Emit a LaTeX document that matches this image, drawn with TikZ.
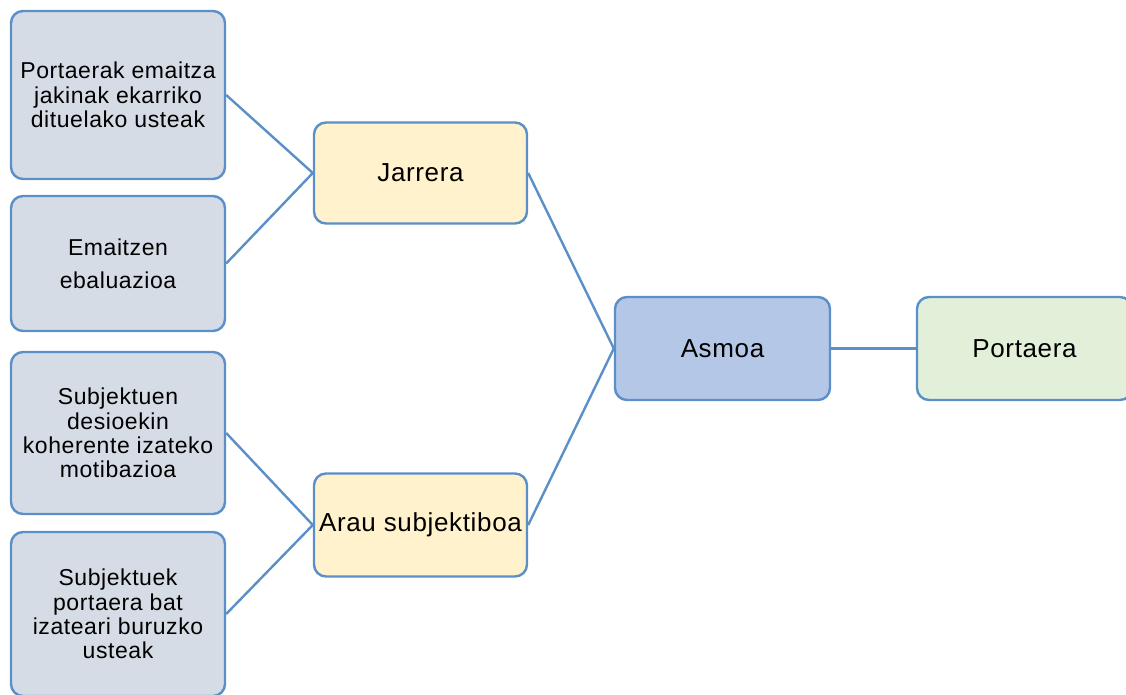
\documentclass[tikz,border=0pt]{standalone}
\usepackage{fontspec}
\setmainfont{Liberation Sans}[LetterSpace=2.5]
\definecolor{edgeblue}{HTML}{5B8FC8}
\definecolor{grayfill}{HTML}{D6DCE5}
\definecolor{yellowfill}{HTML}{FFF2CC}
\definecolor{bluefill}{HTML}{B4C7E7}
\definecolor{greenfill}{HTML}{E2F0D9}
\begin{document}
\begin{tikzpicture}[x=1pt,y=-1pt,
  box/.style={draw=edgeblue, line width=2.4pt, rounded corners=12pt, align=center, inner sep=0pt, text=black},
  leftbox/.style={box, fill=grayfill, minimum width=214pt, font=\fontsize{23}{24.4}\selectfont},
  midbox/.style={box, fill=yellowfill, minimum width=213pt, minimum height=101pt, font=\fontsize{26}{28}\selectfont},
  link/.style={draw=edgeblue, line width=2.4pt}]
\useasboundingbox (0,0) rectangle (1126,695);
\clip (0,0) rectangle (1126,695);
\node[leftbox, minimum height=168pt] (b1) at (118,95) {Portaerak emaitza\\jakinak ekarriko\\dituelako usteak};
\node[leftbox, minimum height=135pt] (b2) at (118,263.5) {Emaitzen\\[8.6pt]ebaluazioa};
\node[leftbox, minimum height=162pt] (b3) at (118,433) {Subjektuen\\desioekin\\koherente izateko\\motibazioa};
\node[leftbox, minimum height=164pt] (b4) at (118,614) {Subjektuek\\portaera bat\\izateari buruzko\\usteak};
\node[midbox] (jar) at (420.5,173) {Jarrera};
\node[midbox, minimum height=103pt] (arau) at (420.5,525) {Arau subjektiboa};
\node[box, fill=bluefill, minimum width=215pt, minimum height=103pt, font=\fontsize{26}{28}\selectfont] (asm) at (722.5,348.5) {Asmoa};
\node[box, fill=greenfill, minimum width=215pt, minimum height=103pt, font=\fontsize{26}{28}\selectfont] (por) at (1024.5,348.5) {Portaera};
\draw[link] (b1.east) -- (jar.west);
\draw[link] (b2.east) -- (jar.west);
\draw[link] (b3.east) -- (arau.west);
\draw[link] (b4.east) -- (arau.west);
\draw[link] (jar.east) -- (asm.west);
\draw[link] (arau.east) -- (asm.west);
\draw[link] (asm.east) -- (por.west);
\end{tikzpicture}
\end{document}
